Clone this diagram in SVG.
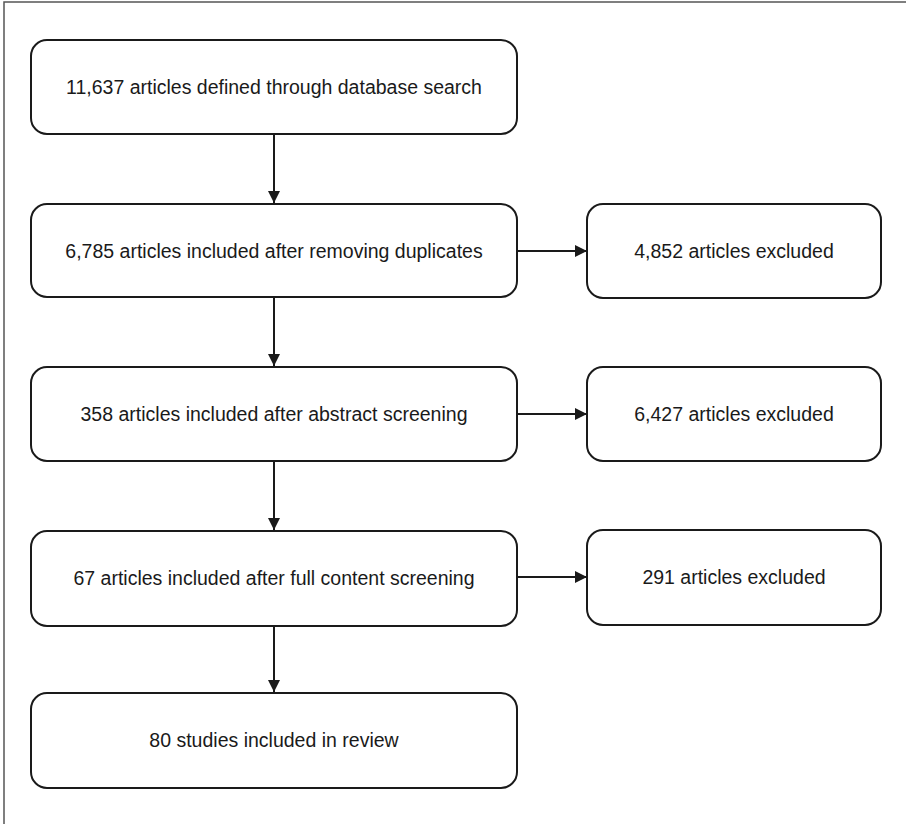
<svg xmlns="http://www.w3.org/2000/svg" width="906" height="824" viewBox="0 0 906 824">
<defs>
<style>
.box{fill:#fff;stroke:#1a1a1a;stroke-width:2}
.lbl{font-family:"Liberation Sans",Arial,sans-serif;font-size:19.5px;fill:#1a1a1a;text-anchor:middle}
.conn{stroke:#1a1a1a;stroke-width:2;fill:none}
.frame{stroke:#555;stroke-width:1.5;fill:none}
</style>
<marker id="ah" viewBox="0 0 12 12" refX="12" refY="6" markerWidth="12" markerHeight="12" markerUnits="userSpaceOnUse" orient="auto">
<path d="M0,0 L12,6 L0,12 Z" fill="#1a1a1a"/>
</marker>
</defs>
<rect width="906" height="824" fill="#fff"/>
<path class="frame" d="M4,824 L4,2 L906,2"/>
<g id="n1"><rect class="box" x="31" y="40" width="486" height="94" rx="16"/><text class="lbl" x="274" y="94">11,637 articles defined through database search</text></g>
<g id="n2"><rect class="box" x="31" y="204" width="486" height="93" rx="16"/><text class="lbl" x="274" y="258">6,785 articles included after removing duplicates</text></g>
<g id="n3"><rect class="box" x="587" y="204" width="294" height="94" rx="16"/><text class="lbl" x="734" y="258">4,852 articles excluded</text></g>
<g id="n4"><rect class="box" x="31" y="367" width="486" height="94" rx="16"/><text class="lbl" x="274" y="421">358 articles included after abstract screening</text></g>
<g id="n5"><rect class="box" x="587" y="367" width="294" height="94" rx="16"/><text class="lbl" x="734" y="421">6,427 articles excluded</text></g>
<g id="n6"><rect class="box" x="31" y="531" width="486" height="95" rx="16"/><text class="lbl" x="274" y="585">67 articles included after full content screening</text></g>
<g id="n7"><rect class="box" x="587" y="530" width="294" height="95" rx="16"/><text class="lbl" x="734" y="584">291 articles excluded</text></g>
<g id="n8"><rect class="box" x="31" y="693" width="486" height="95" rx="16"/><text class="lbl" x="274" y="747">80 studies included in review</text></g>
<g id="connectors">
<line class="conn" x1="274" y1="134" x2="274" y2="203" marker-end="url(#ah)"/>
<line class="conn" x1="274" y1="297" x2="274" y2="366" marker-end="url(#ah)"/>
<line class="conn" x1="274" y1="461" x2="274" y2="530" marker-end="url(#ah)"/>
<line class="conn" x1="274" y1="626" x2="274" y2="692" marker-end="url(#ah)"/>
<line class="conn" x1="517" y1="251" x2="587" y2="251" marker-end="url(#ah)"/>
<line class="conn" x1="517" y1="414" x2="587" y2="414" marker-end="url(#ah)"/>
<line class="conn" x1="517" y1="577" x2="587" y2="577" marker-end="url(#ah)"/>
</g>
</svg>
